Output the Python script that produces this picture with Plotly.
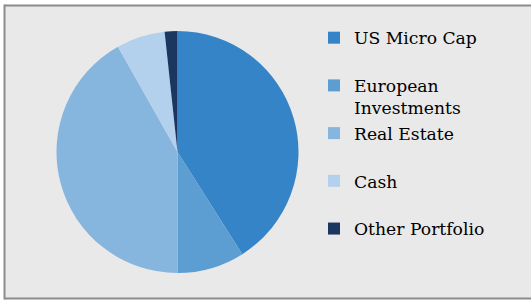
import plotly.graph_objects as go

categories = ["US Micro Cap", "European<br>Investments", "Real Estate", "Cash", "Other Portfolio"]
values = [41.0, 9.0, 41.8, 6.5, 1.7]
colors = ["#3584C7", "#5C9DD2", "#86B5DD", "#B3D1EC", "#1B365F"]

# pad single-line labels to two lines so every legend slot has the same height
legend_labels = [c if "<br>" in c else c + "<br>\u00a0" for c in categories]

W, H = 531, 300
cx, cy, r = 177.5, 152, 121

fig = go.Figure(go.Pie(
    labels=legend_labels,
    values=values,
    marker=dict(colors=colors, line=dict(width=0)),
    sort=False,
    direction="clockwise",
    rotation=0,
    textinfo="none",
    hoverinfo="label+percent",
    domain=dict(x=[(cx - r) / W, (cx + r) / W], y=[(H - cy - r) / H, (H - cy + r) / H]),
))

# white page margin outside the chart area (paper itself is the grey chart fill)
x0 = 4.5 / W
y0, y1 = 1 - 298.5 / H, 1 - 5.5 / H
for sx0, sx1, sy0, sy1 in [(0, x0, 0, 1), (0, 1, y1, 1), (0, 1, 0, y0)]:
    fig.add_shape(type="rect", xref="paper", yref="paper", x0=sx0, x1=sx1, y0=sy0, y1=sy1,
                  line=dict(width=0), fillcolor="white", layer="below")
border = dict(color="#8C8C8C", width=2)
fig.add_shape(type="line", xref="paper", yref="paper", x0=x0, x1=x0, y0=y0 - 1 / H, y1=y1 + 1 / H,
              line=border, layer="below")
fig.add_shape(type="line", xref="paper", yref="paper", x0=x0, x1=1, y0=y1, y1=y1,
              line=border, layer="below")
fig.add_shape(type="line", xref="paper", yref="paper", x0=x0, x1=1, y0=y0, y1=y0,
              line=border, layer="below")

fig.update_layout(
    width=W, height=H,
    margin=dict(l=0, r=0, t=0, b=0),
    paper_bgcolor="#E9E9E9",
    plot_bgcolor="#E9E9E9",
    showlegend=True,
    legend=dict(x=314 / W, y=1 - 20 / H, xanchor="left", yanchor="top",
                valign="top", bgcolor="rgba(0,0,0,0)",
                font=dict(family="DejaVu Serif", size=17.2, color="#000000")),
)

fig.write_html("out.html",
               config={"displayModeBar": False},
               post_script="document.body.style.margin='0';document.body.style.overflow='hidden';")
